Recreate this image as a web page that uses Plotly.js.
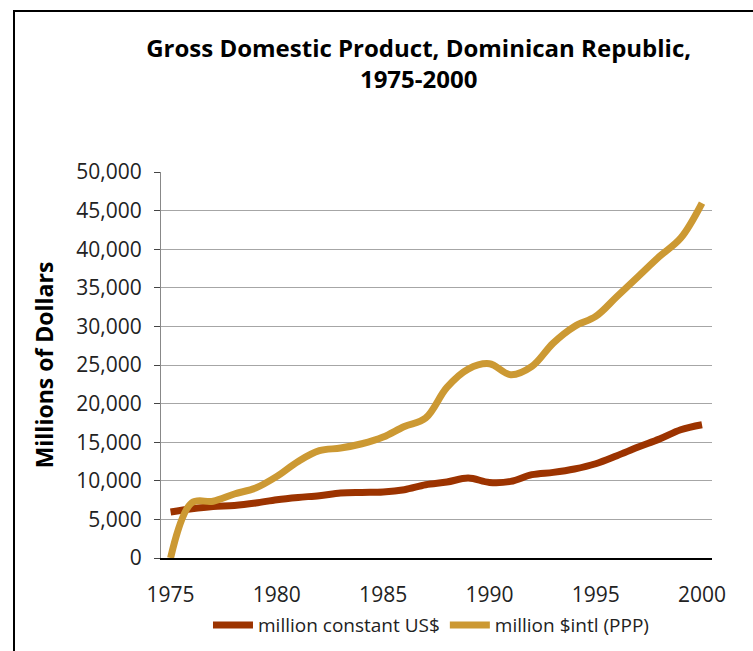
<!DOCTYPE html>
<html>
<head>
<meta charset="utf-8">
<script src="https://cdn.plot.ly/plotly-3.0.1.min.js"></script>
<style>
  html, body { margin: 0; padding: 0; background: #fff; }
  #wrap { position: relative; width: 753px; height: 651px; overflow: hidden; }
  #chart { position: absolute; left: 0; top: 0; width: 753px; height: 651px; }
  #frame { position: absolute; left: 13px; top: 10px; width: 800px; height: 700px;
           border-left: 2px solid #000; border-top: 2px solid #000; pointer-events: none; }
</style>
</head>
<body>
<div id="wrap">
  <div id="chart"></div>
  <div id="frame"></div>
</div>
<script>
const years = [1975,1976,1977,1978,1979,1980,1981,1982,1983,1984,1985,1986,1987,
               1988,1989,1990,1991,1992,1993,1994,1995,1996,1997,1998,1999,2000];
const constantUSD = [5960,6380,6680,6810,7120,7550,7850,8070,8420,8500,8550,8850,9490,
                     9840,10360,9790,9920,10790,11090,11530,12210,13250,14370,15410,16610,17260];
const intlPPP = [0,7150,7350,8290,9060,10570,12510,13900,14240,14800,15670,17040,18130,
                 22100,24470,25160,23740,24820,27840,29990,31290,33880,36470,39060,41440,45970];
const seriesNames = ['million constant US$', 'million $intl (PPP)'];
const xTicks = [1975,1980,1985,1990,1995,2000];
const yTicks = [0,5000,10000,15000,20000,25000,30000,35000,40000,45000,50000];

const FONT = 'Open Sans, Noto Sans, DejaVu Sans, sans-serif';

const traces = [
  { x: years, y: constantUSD, name: seriesNames[0], type: 'scatter', mode: 'lines',
    line: { color: '#9C3300', width: 7, shape: 'spline', smoothing: 1 } },
  { x: years, y: intlPPP, name: seriesNames[1], type: 'scatter', mode: 'lines',
    line: { color: '#CC9933', width: 7, shape: 'spline', smoothing: 1 } }
];

const layout = {
  width: 753, height: 651,
  margin: { l: 161, r: 41, t: 172, b: 93, autoexpand: false },
  paper_bgcolor: '#fff', plot_bgcolor: '#fff',
  font: { family: FONT, color: '#222' },
  title: {
    text: '<b>Gross Domestic Product, Dominican Republic,<br>1975-2000</b>',
    font: { family: FONT, size: 24, color: '#000' },
    x: 0.556, xref: 'container', xanchor: 'center',
    y: 0.912, yref: 'container', yanchor: 'middle'
  },
  xaxis: {
    range: [1974.55, 2000.47],
    tickvals: xTicks, ticktext: xTicks.map(String),
    showgrid: false, zeroline: false,
    showline: true, linecolor: '#000', linewidth: 2,
    ticks: '', ticklabelstandoff: 17,
    tickfont: { family: FONT, size: 21, color: '#222' }
  },
  yaxis: {
    range: [0, 50000],
    tickvals: yTicks, tickformat: ',d',
    showgrid: true, gridcolor: '#a6a6a6', gridwidth: 1,
    zeroline: false,
    showline: true, linecolor: '#888', linewidth: 1,
    ticks: 'outside', ticklen: 6, tickcolor: '#444', tickwidth: 1,
    ticklabelstandoff: 8,
    tickfont: { family: FONT, size: 21, color: '#222' },
    title: { text: '<b>Millions of Dollars</b>', font: { family: FONT, size: 23, color: '#000' }, standoff: 16 }
  },
  showlegend: true,
  legend: {
    orientation: 'h', x: 0.49, xanchor: 'center', y: -0.174, yanchor: 'middle',
    font: { family: FONT, size: 19, color: '#222' },
    itemwidth: 40, tracegroupgap: 0
  }
};

Plotly.newPlot('chart', traces, layout, { displayModeBar: false, staticPlot: true });
</script>
</body>
</html>
